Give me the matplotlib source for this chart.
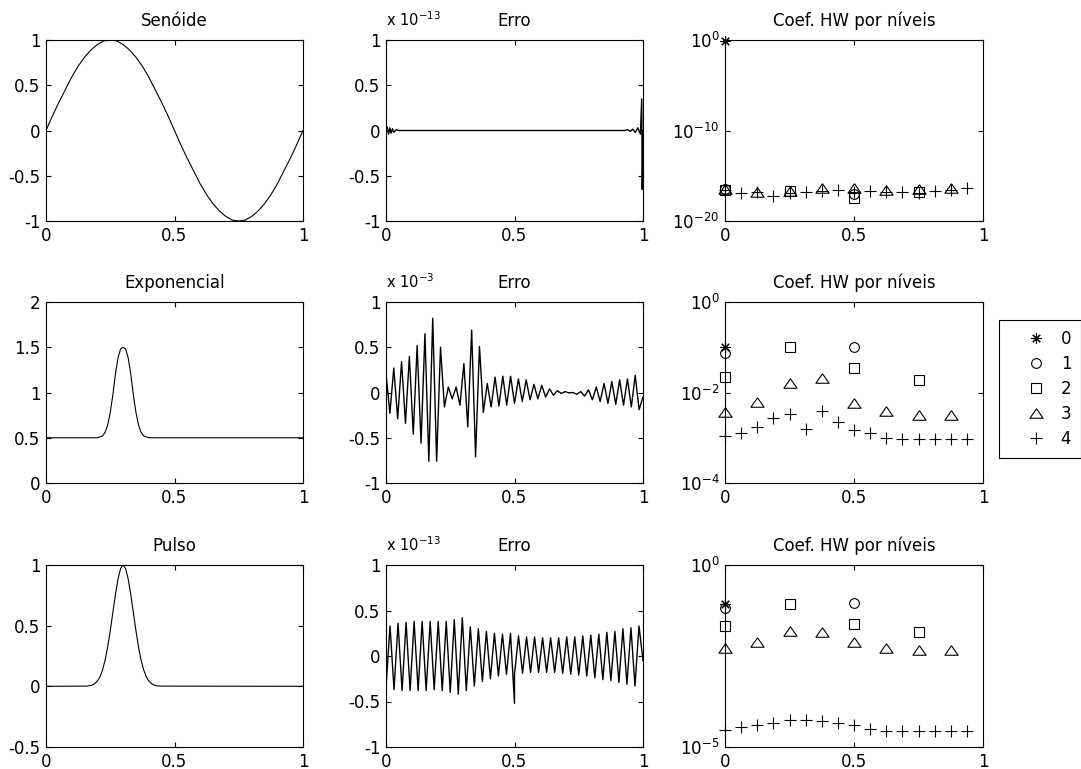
"""Sinais de teste, erro de reconstrução e coeficientes de Haar-Walsh por nível."""

import matplotlib.pyplot as plt
import numpy as np
from matplotlib.ticker import FixedLocator, FuncFormatter, NullLocator

plt.rcParams["font.family"] = ["DejaVu Sans"]
plt.rcParams["mathtext.default"] = "regular"

# sinais originais (coluna da esquerda)
sine_y = [0.00, 0.16, 0.31, 0.45, 0.59, 0.71, 0.81, 0.89, 0.95, 0.99, 1.00,
          0.99, 0.95, 0.89, 0.81, 0.71, 0.59, 0.45, 0.31, 0.16, 0.00,
          -0.16, -0.31, -0.45, -0.59, -0.71, -0.81, -0.89, -0.95, -0.99, -1.00,
          -0.99, -0.95, -0.89, -0.81, -0.71, -0.59, -0.45, -0.31, -0.16, 0.00]

exp_x = np.r_[0.0, 0.20, np.arange(0.22, 0.385, 0.01), 0.40, 1.0]
exp_y = [0.5, 0.50, 0.52, 0.56, 0.64, 0.78, 0.97, 1.20, 1.38, 1.48, 1.50,
         1.48, 1.38, 1.20, 0.97, 0.78, 0.64, 0.56, 0.52, 0.50, 0.5]

pulse_x = np.r_[0.0, np.arange(0.16, 0.445, 0.01), 1.0]
pulse_y = [0.0, 0.002, 0.005, 0.011, 0.023, 0.044, 0.079, 0.135, 0.216, 0.325,
           0.458, 0.607, 0.755, 0.882, 0.969, 1.0, 0.969, 0.882, 0.755, 0.607,
           0.458, 0.325, 0.216, 0.135, 0.079, 0.044, 0.023, 0.011, 0.005,
           0.002, 0.0]

# erro de reconstrução (coluna do meio), já dividido pelo fator de escala
sine_err_x = [0.0, 0.005, 0.01, 0.015, 0.02, 0.025, 0.03, 0.04, 0.05, 0.93,
              0.94, 0.95, 0.96, 0.97, 0.98, 0.99, 0.995, 0.997, 1.0]
sine_err_y = [0.0, 0.04, -0.04, 0.03, -0.03, 0.02, -0.02, 0.01, 0.0, 0.0,
              0.01, -0.01, 0.015, -0.02, 0.03, -0.04, 0.35, -0.65, 0.0]  # x 1e-13

exp_err_y = [0.21, -0.23, 0.27, -0.29, 0.34, -0.34, 0.40, -0.46, 0.52, -0.56,
             0.65, -0.76, 0.82, -0.76, 0.50, -0.16, 0.06, -0.07, 0.06, -0.14,
             0.32, -0.38, 0.69, -0.71, 0.51, -0.22, 0.10, -0.16, 0.17, -0.15,
             0.18, -0.14, 0.18, -0.12, 0.15, -0.10, 0.14, -0.08, 0.09, -0.07,
             0.08, -0.05, 0.04, -0.03, 0.02, -0.01, 0.01, -0.005, 0.0, -0.02,
             0.01, -0.04, 0.03, -0.08, 0.06, -0.10, 0.10, -0.12, 0.12, -0.13,
             0.14, -0.14, 0.15, -0.16, 0.19, -0.19, -0.05]  # x 1e-3

pulse_err_y = [-0.35, 0.33, -0.37, 0.36, -0.38, 0.37, -0.38, 0.38, -0.38, 0.38,
               -0.38, 0.38, -0.37, 0.38, -0.38, 0.38, -0.40, 0.40, -0.42, 0.42,
               -0.38, 0.32, -0.33, 0.30, -0.28, 0.27, -0.25, 0.25, -0.22, 0.24,
               -0.20, 0.25, -0.20, 0.22, -0.19, 0.21, -0.18, 0.21, -0.18, 0.20,
               -0.18, 0.20, -0.18, 0.20, -0.19, 0.21, -0.20, 0.21, -0.21, 0.22,
               -0.22, 0.23, -0.24, 0.24, -0.26, 0.26, -0.27, 0.27, -0.29, 0.30,
               -0.31, 0.31, -0.33, 0.33, -0.05]  # x 1e-13
pulse_err_spike = (0.5, -0.52)

# coeficientes HW por nível (nível j tem 2**j coeficientes)
sine_coef = [
    [0.7],
    [3.2e-17, 1.0e-17],
    [2.5e-17, 2.0e-17, 3.2e-18, 1.6e-17],
    [3.2e-17, 1.6e-17, 2.0e-17, 4.0e-17, 4.0e-17, 2.5e-17, 3.2e-17, 4.0e-17],
    [2.5e-17, 1.3e-17, 1.6e-17, 6.3e-18, 1.3e-17, 1.6e-17, 2.0e-17, 2.5e-17,
     1.6e-17, 2.0e-17, 1.6e-17, 1.6e-17, 1.3e-17, 2.0e-17, 2.5e-17, 4.0e-17],
]
exp_coef = [
    [0.10],
    [0.074, 0.10],
    [0.022, 0.10, 0.035, 0.019],
    [0.0037, 0.0063, 0.0166, 0.021, 0.0058, 0.0039, 0.0032, 0.0032],
    [0.0011, 0.0013, 0.0017, 0.0027, 0.0033, 0.0016, 0.0040, 0.0022,
     0.0015, 0.00126, 0.0010, 0.00093, 0.00093, 0.00093, 0.00093, 0.00093],
]
pulse_coef = [
    [0.087],
    [0.065, 0.091],
    [0.021, 0.085, 0.024, 0.0148],
    [0.0054, 0.0079, 0.0158, 0.0148, 0.0078, 0.0051, 0.0046, 0.0046],
    [3.0e-5, 3.5e-5, 4.1e-5, 4.7e-5, 5.4e-5, 5.4e-5, 5.2e-5, 4.5e-5,
     4.0e-5, 3.2e-5, 2.8e-5, 2.8e-5, 2.8e-5, 2.8e-5, 2.8e-5, 2.8e-5],
]
level_labels = ["0", "1", "2", "3", "4"]

W, H = 1081, 769
COLS = [(46, 303), (386, 643), (725, 983)]
ROWS = [(40, 221), (302, 483), (565, 747)]

# marcadores estilo MATLAB: *, o, s, ^, +
TRI = [(0, 0.72), (-1, -0.72), (1, -0.72), (0, 0.72)]
MARKERS = [((8, 2, 0), 7.5), ("o", 7), ("s", 7.5), (TRI, 9.5), ("+", 8.5)]


def add_axes_px(fig, col, row):
    x0, x1 = COLS[col]
    y0, y1 = ROWS[row]
    return fig.add_axes([x0 / W, 1 - y1 / H, (x1 - x0) / W, (y1 - y0) / H])


def matlab_style(ax):
    ax.tick_params(direction="in", top=True, right=True, length=3.5,
                   width=0.8, labelsize=12, pad=4)
    for spine in ax.spines.values():
        spine.set_linewidth(0.8)
    ax.set_xlim(0, 1)
    ax.xaxis.set_major_locator(FixedLocator([0, 0.5, 1]))
    ax.xaxis.set_major_formatter(FuncFormatter(lambda v, _: f"{v:g}"))


def plot_signal(ax, x, y, title, yticks):
    ax.plot(x, y, color="k", lw=0.8)
    matlab_style(ax)
    ax.set_ylim(yticks[0], yticks[-1])
    ax.yaxis.set_major_locator(FixedLocator(yticks))
    ax.yaxis.set_major_formatter(FuncFormatter(lambda v, _: f"{v:g}"))
    ax.set_title(title, fontsize=12, pad=10)


def plot_error(ax, x, y, exponent):
    ax.plot(x, y, color="k", lw=1.0)
    matlab_style(ax)
    ax.set_ylim(-1, 1)
    ax.yaxis.set_major_locator(FixedLocator([-1, -0.5, 0, 0.5, 1]))
    ax.yaxis.set_major_formatter(FuncFormatter(lambda v, _: f"{v:g}"))
    ax.set_title("Erro", fontsize=12, pad=10)
    ax.text(0.0, 1.06, f"x 10$^{{{exponent}}}$", transform=ax.transAxes,
            fontsize=10.5, ha="left", va="bottom")


def plot_coef(ax, coefs, yticks):
    for level, vals in enumerate(coefs):
        n = len(vals)
        marker, size = MARKERS[level]
        ax.plot(np.arange(n) / n, vals, linestyle="none", marker=marker,
                ms=size, mfc="none", mec="k", mew=0.8, clip_on=False,
                label=level_labels[level])
    ax.set_yscale("log")
    matlab_style(ax)
    ax.set_ylim(yticks[-1], yticks[0])
    ax.yaxis.set_major_locator(FixedLocator(yticks))
    ax.yaxis.set_minor_locator(NullLocator())
    ax.yaxis.set_major_formatter(
        FuncFormatter(lambda v, _: f"$10^{{{int(round(np.log10(v)))}}}$"))
    ax.set_title("Coef. HW por níveis", fontsize=12, pad=10)


fig = plt.figure(figsize=(W / 100, H / 100), dpi=100)

# linha 1: senóide
plot_signal(add_axes_px(fig, 0, 0), np.linspace(0, 1, len(sine_y)), sine_y,
            "Senóide", [-1, -0.5, 0, 0.5, 1])
plot_error(add_axes_px(fig, 1, 0), sine_err_x, sine_err_y, -13)
plot_coef(add_axes_px(fig, 2, 0), sine_coef, [1e0, 1e-10, 1e-20])

# linha 2: exponencial
plot_signal(add_axes_px(fig, 0, 1), exp_x, exp_y, "Exponencial",
            [0, 0.5, 1, 1.5, 2])
plot_error(add_axes_px(fig, 1, 1), np.linspace(0, 1, len(exp_err_y)),
           exp_err_y, -3)
ax_leg = add_axes_px(fig, 2, 1)
plot_coef(ax_leg, exp_coef, [1e0, 1e-2, 1e-4])

# linha 3: pulso (com o pico isolado em x = 0.5)
err_x = np.linspace(0, 1, len(pulse_err_y))
idx = np.searchsorted(err_x, pulse_err_spike[0])
err_x = np.insert(err_x, idx, pulse_err_spike[0])
err_y = np.insert(np.array(pulse_err_y), idx, pulse_err_spike[1])
plot_signal(add_axes_px(fig, 0, 2), pulse_x, pulse_y, "Pulso",
            [-0.5, 0, 0.5, 1])
plot_error(add_axes_px(fig, 1, 2), err_x, err_y, -13)
plot_coef(add_axes_px(fig, 2, 2), pulse_coef, [1e0, 1e-5])

handles, labels = ax_leg.get_legend_handles_labels()
leg = fig.legend(handles, labels, loc="upper left",
                 bbox_to_anchor=(999 / W, 1 - 320 / H),
                 bbox_transform=fig.transFigure, borderaxespad=0,
                 fontsize=12, fancybox=False, framealpha=1, edgecolor="k",
                 borderpad=0.6, handlelength=3.2, handletextpad=-0.1,
                 labelspacing=0.42, numpoints=1)
leg.get_frame().set_linewidth(0.8)

fig.savefig("out.png", dpi=100, facecolor="white")
